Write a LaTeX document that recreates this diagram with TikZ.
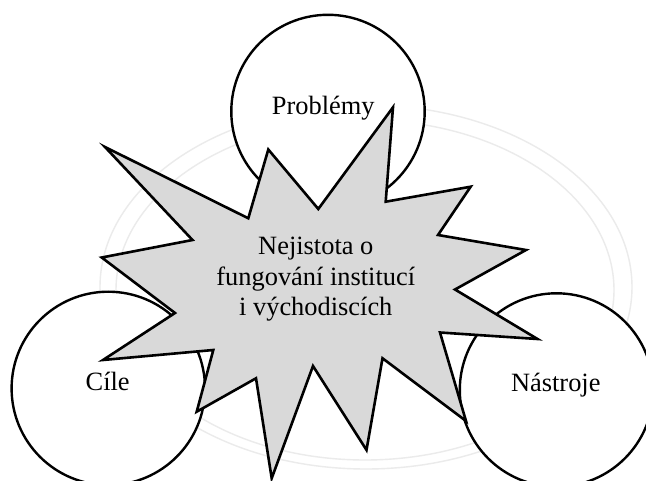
\documentclass[tikz,border=0pt]{standalone}
\usepackage{fontspec}
\setmainfont{Liberation Serif}
\definecolor{starfill}{HTML}{D9D9D9}
\definecolor{ringgray}{HTML}{EBEBEB}
\begin{document}
\begin{tikzpicture}[x=1pt,y=-1pt,
  circ/.style={circle, draw=black, line width=2.4pt, fill=white, minimum size=193.4pt, inner sep=0pt},
  lbl/.style={font=\fontsize{26.4pt}{30.5pt}\selectfont, inner sep=0pt, anchor=base},
  ring/.style={draw=ringgray, line width=1.4pt},
  burst/.style={draw=black, line width=2.6pt, fill=starfill, line join=miter}]
\fill[white] (0,0) rectangle (646,481);
\useasboundingbox (0,0) rectangle (646,481);
\clip (0,0) rectangle (646,481);
% faint background rings
\draw[ring] (366,287) ellipse [x radius=266pt, y radius=182pt];
\draw[ring] (365,290) ellipse [x radius=249pt, y radius=170pt];
% circles
\node[circ] (probc) at (328,111.5) {};
\node[circ] (cilec) at (108.3,388.4) {};
\node[circ] (nastc) at (556.5,390) {};
\node[lbl] (prob) at (323.3,115) {Problémy};
\node[lbl] (cile) at (107.7,390.5) {Cíle};
\node[lbl] (nast) at (555.8,391.3) {Nástroje};
% explosion
\draw[burst] (105,147) -- (248.3,218.3) -- (268.3,149.5) -- (318.3,209)
  -- (393,107.3) -- (385.7,201.7) -- (470.7,186.7) -- (438,235)
  -- (526,250) -- (455,289.5) -- (537.5,339) -- (440,332.5)
  -- (466,421) -- (382.5,358.3) -- (366.5,450) -- (313,366)
  -- (271.7,478.3) -- (256,378.3) -- (196.7,411.7) -- (213.3,350)
  -- (103,360) -- (175,313) -- (101.7,257.5) -- (192.5,240) -- cycle;
% base anchor of a multi-line node is the baseline of its last line
\node[lbl, align=center] (unc) at (315.8,316) {Nejistota o\\fungování institucí\\i východiscích};
\end{tikzpicture}
\end{document}
